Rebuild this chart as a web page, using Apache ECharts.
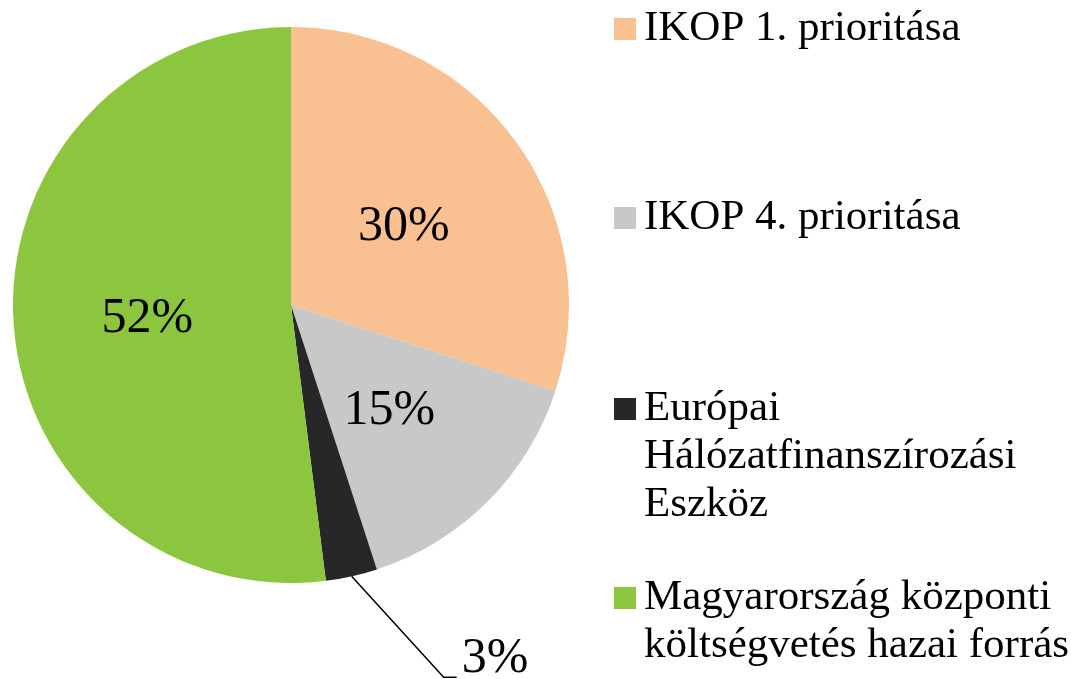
<!DOCTYPE html>
<html>
<head>
<meta charset="utf-8">
<script src="https://cdn.jsdelivr.net/npm/echarts@6/dist/echarts.min.js"></script>
<style>
  html, body { margin: 0; padding: 0; background: #fff; }
  #chart { width: 1071px; height: 679px; }
</style>
</head>
<body>
<div id="chart"></div>
<script>
// adatok
var categories = ['IKOP 1. prioritása', 'IKOP 4. prioritása', 'Európai Hálózatfinanszírozási Eszköz', 'Magyarország központi költségvetés hazai forrás'];
var values = [30, 15, 3, 52];
var colors = ['#F9C191', '#C8C8C8', '#272727', '#8CC63F'];
// jelmagyarázat sorai (tördelve, ahogy az eredetin)
var legendLines = [
  ['IKOP 1. prioritása'],
  ['IKOP 4. prioritása'],
  ['Európai', 'Hálózatfinanszírozási', 'Eszköz'],
  ['Magyarország központi', 'költségvetés hazai forrás']
];

var font = '"Liberation Serif", "Times New Roman", serif';
var lineH = 48;
var legendIconY = [29, 218, 409, 598]; // a négyzetek közepe

var legends = categories.map(function (name, i) {
  var n = legendLines[i].length;
  // üres sorok elé, hogy az első sor a négyzet mellé kerüljön
  var lines = [];
  for (var k = 1; k < n; k++) lines.push(' ');
  lines = lines.concat(legendLines[i]);
  return {
    orient: 'vertical',
    left: 614,
    top: legendIconY[i] - (2 * n - 1) * lineH / 2,
    padding: 0,
    icon: 'rect',
    itemWidth: 22,
    itemHeight: 22,
    selectedMode: false,
    formatter: function () { return lines.join('\n'); },
    data: [name],
    textStyle: { fontFamily: font, fontSize: 43, lineHeight: lineH, color: '#000', padding: [0, 0, 0, 3] }
  };
});

var pieData = categories.map(function (name, i) {
  var item = { name: name, value: values[i], itemStyle: { color: colors[i] } };
  if (i === 2) {
    // a kis szelet címkéje kívül, vezetővonallal
    item.label = { position: 'outside' };
    item.labelLine = { show: true, length: 20, length2: 10 };
  }
  return item;
});

var myChart = echarts.init(document.getElementById('chart'));
myChart.setOption({
  animation: false,
  backgroundColor: '#fff',
  legend: legends,
  series: [{
    type: 'pie',
    center: [291, 305],
    radius: 278,
    startAngle: 90,
    clockwise: true,
    avoidLabelOverlap: false,
    label: {
      show: true,
      position: 'inside',
      formatter: '{c}%',
      fontFamily: font,
      fontSize: 50,
      color: '#000',
      offset: [-2, 5]
    },
    labelLine: { show: false, lineStyle: { color: '#000', width: 1.5 } },
    labelLayout: function (p) {
      if (p.dataIndex !== 2 || !p.labelLinePoints) return {};
      var s = p.labelLinePoints[0];
      return {
        x: s[0] + 110,
        y: s[1] + 83,
        align: 'left',
        verticalAlign: 'middle',
        labelLinePoints: [s, [s[0] + 92, s[1] + 101], [s[0] + 105, s[1] + 101]]
      };
    },
    emphasis: { disabled: true },
    data: pieData
  }]
});
</script>
</body>
</html>
